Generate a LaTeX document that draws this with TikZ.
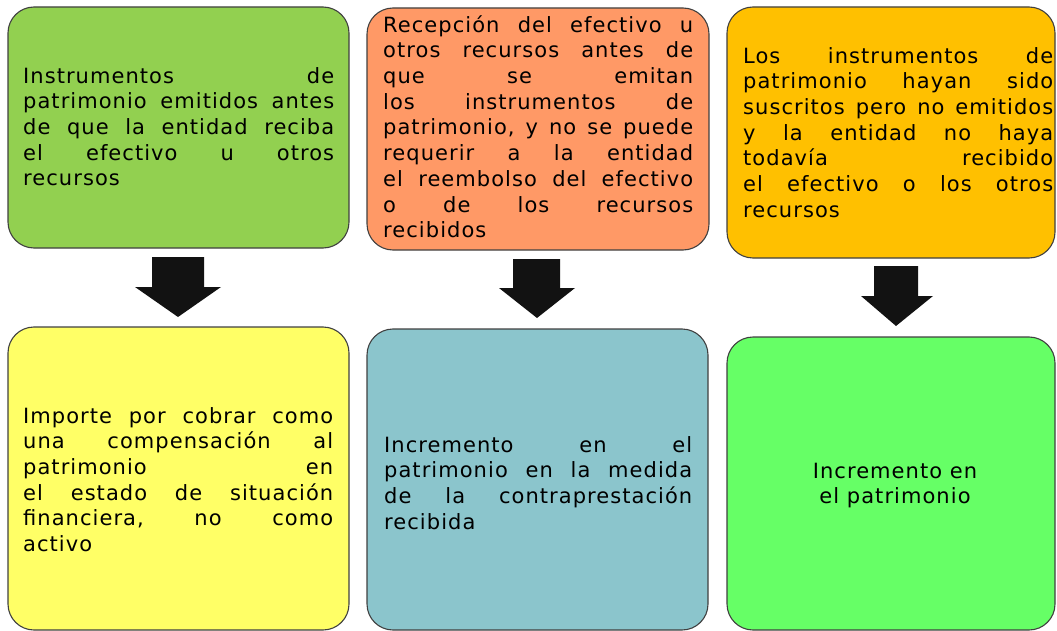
\documentclass[tikz,border=0pt]{standalone}
\usepackage{fontspec}
\setmainfont[LetterSpace=5]{DejaVu Sans}
\definecolor{cgreen}{HTML}{92D050}
\definecolor{corange}{HTML}{FF9966}
\definecolor{camber}{HTML}{FFC000}
\definecolor{cyellow}{HTML}{FFFF66}
\definecolor{cteal}{HTML}{8BC5CC}
\definecolor{clime}{HTML}{66FF66}
\newcommand{\jl}[1]{\leavevmode\hbox to \hsize{#1}\\}
\newcommand{\gap}{\hfill}
\tikzset{
  box/.style={draw=black!75, line width=1.1pt, rounded corners=26pt},
  txt/.style={inner sep=0pt, anchor=north west, align=left, font=\fontsize{21}{25.7}\selectfont},
  ctxt/.style={inner sep=0pt, anchor=north, align=center, font=\fontsize{21}{25.7}\selectfont},
  blockarr/.style={fill=black!93, draw=none},
}
\begin{document}
\begin{tikzpicture}[x=1pt,y=-1pt]
\useasboundingbox (0,0) rectangle (1057,631);
% boxes
\node[box, fill=cgreen, minimum width=341pt, minimum height=241pt] (b1) at (178.5,127.5) {};
\node[box, fill=corange, minimum width=342pt, minimum height=242pt] (b2) at (538,129) {};
\node[box, fill=camber, minimum width=328pt, minimum height=251pt] (b3) at (891,132.5) {};
\node[box, fill=cyellow, minimum width=341pt, minimum height=303pt] (b4) at (178.5,478.5) {};
\node[box, fill=cteal, minimum width=341pt, minimum height=301pt] (b5) at (537.5,479.5) {};
\node[box, fill=clime, minimum width=328pt, minimum height=293pt] (b6) at (891,483.5) {};
% texts
\node[txt, text width=311pt] (t1) at (23,65) {\leavevmode\strut
\jl{Instrumentos\gap de}
\jl{patrimonio\gap emitidos\gap antes}
\jl{de\gap que\gap la\gap entidad\gap reciba}
\jl{el\gap efectivo\gap u\gap otros}
recursos};
\node[txt, text width=310pt] (t2) at (383,14) {\leavevmode\strut
\jl{Recepción\gap del\gap efectivo\gap u}
\jl{otros\gap recursos\gap antes\gap de}
\jl{que\gap se\gap emitan}
\jl{los\gap instrumentos\gap de}
\jl{patrimonio,\gap y\gap no\gap se\gap puede}
\jl{requerir\gap a\gap la\gap entidad}
\jl{el\gap reembolso\gap del\gap efectivo}
\jl{o\gap de\gap los\gap recursos}
recibidos};
\node[txt, text width=310pt] (t3) at (743,45) {\leavevmode\strut
\jl{Los\gap instrumentos\gap de}
\jl{patrimonio\gap hayan\gap sido}
\jl{suscritos\gap pero\gap no\gap emitidos}
\jl{y\gap la\gap entidad\gap no\gap haya}
\jl{todavía\gap recibido}
\jl{el\gap efectivo\gap o\gap los\gap otros}
recursos};
\node[txt, text width=310pt] (t4) at (23,405) {\leavevmode\strut
\jl{Importe\gap por\gap cobrar\gap como}
\jl{una\gap compensación\gap al}
\jl{patrimonio\gap en}
\jl{el\gap estado\gap de\gap situación}
\jl{financiera,\gap no\gap como}
activo};
\node[txt, text width=308pt] (t5) at (384,434) {\leavevmode\strut
\jl{Incremento\gap en\gap el}
\jl{patrimonio\gap en\gap la\gap medida}
\jl{de\gap la\gap contraprestación}
recibida};
\node[ctxt] (t6) at (895,460) {\strut Incremento en\\el patrimonio};
% block arrows
\coordinate (a1) at (178,257);
\coordinate (a2) at (537,259);
\coordinate (a3) at (896,266);
\fill[blockarr] (152,257) -- (204,257) -- (204,287) -- (221,287) -- (178,317) -- (135,287) -- (152,287) -- cycle;
\fill[blockarr] (513,259) -- (560,259) -- (560,288) -- (575,288) -- (537,318) -- (499,288) -- (513,288) -- cycle;
\fill[blockarr] (874,266) -- (918,266) -- (918,296) -- (933,296) -- (896,326) -- (861,296) -- (874,296) -- cycle;
\end{tikzpicture}
\end{document}
